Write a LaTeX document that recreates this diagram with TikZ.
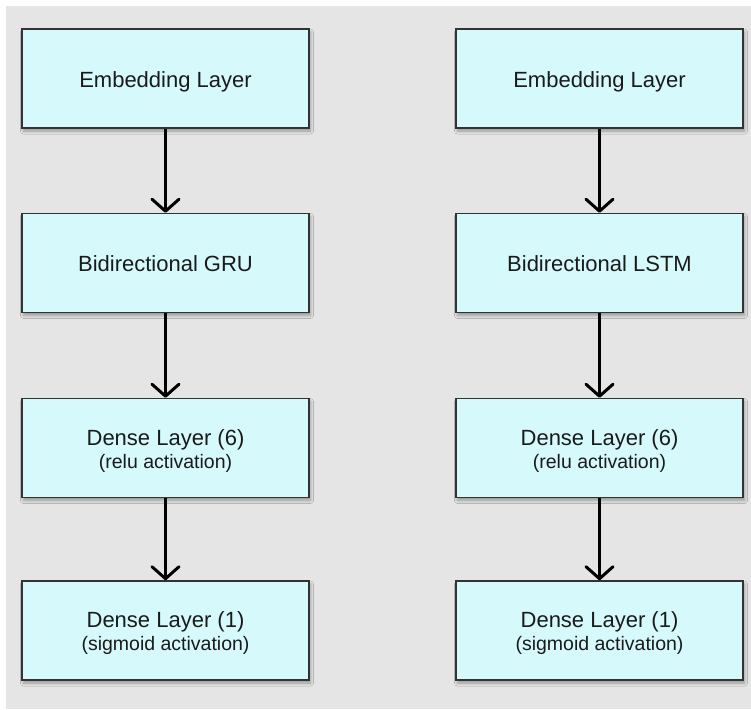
\documentclass[tikz,border=0pt]{standalone}
\usepackage{fontspec}
\setmainfont{Liberation Sans}
\usetikzlibrary{arrows.meta,shadows.blur,calc}
\definecolor{panelgray}{HTML}{E5E5E5}
\definecolor{layerfill}{HTML}{D6FAFC}
\definecolor{layerline}{HTML}{333333}
\definecolor{labeltext}{HTML}{1A1A1A}
\tikzset{
  layer/.style={draw=layerline, line width=1.6pt, fill=layerfill,
    minimum width=287pt, minimum height=99pt, inner sep=0pt,
    blur shadow={shadow xshift=1.5pt, shadow yshift=-3pt,
      shadow blur radius=3pt, shadow blur steps=6, shadow opacity=35}},
  mainlbl/.style={anchor=base, inner sep=0pt, text=labeltext,
    font=\fontsize{22}{26}\selectfont},
  sublbl/.style={anchor=base, inner sep=0pt, text=labeltext,
    font=\fontsize{19.5}{23}\selectfont},
  flow/.style={line width=3pt, black,
    -{Straight Barb[length=12pt, width=27pt, line cap=round, line join=round]}},
}
\begin{document}
\begin{tikzpicture}[x=1pt, y=-1pt]
  % canvas and grey panel
  \fill[white] (0,0) rectangle (751,709);
  \fill[panelgray] (6,6) rectangle (751,709);
  \useasboundingbox (0,0) rectangle (751,709);

  % left stack: GRU model
  \node[layer] (gA) at (165.5,78.5) {};
  \node[layer] (gB) at (165.5,263) {};
  \node[layer] (gC) at (165.5,448) {};
  \node[layer] (gD) at (165.5,630.5) {};

  % right stack: LSTM model
  \node[layer] (lA) at (599.5,78.5) {};
  \node[layer] (lB) at (599.5,263) {};
  \node[layer] (lC) at (599.5,448) {};
  \node[layer] (lD) at (599.5,630.5) {};

  % single-line labels
  \node[mainlbl] (gAt) at ($(gA.center)+(0,8.5)$) {Embedding Layer};
  \node[mainlbl] (gBt) at ($(gB.center)+(0,8.5)$) {Bidirectional GRU};
  \node[mainlbl] (lAt) at ($(lA.center)+(0,8.5)$) {Embedding Layer};
  \node[mainlbl] (lBt) at ($(lB.center)+(0,8.5)$) {Bidirectional LSTM};

  % two-line labels
  \node[mainlbl] (gCt) at ($(gC.center)+(0,-3)$) {Dense Layer (6)};
  \node[sublbl]  (gCs) at ($(gC.center)+(0,20)$) {(relu activation)};
  \node[mainlbl] (gDt) at ($(gD.center)+(0,-3)$) {Dense Layer (1)};
  \node[sublbl]  (gDs) at ($(gD.center)+(0,20)$) {(sigmoid activation)};
  \node[mainlbl] (lCt) at ($(lC.center)+(0,-3)$) {Dense Layer (6)};
  \node[sublbl]  (lCs) at ($(lC.center)+(0,20)$) {(relu activation)};
  \node[mainlbl] (lDt) at ($(lD.center)+(0,-3)$) {Dense Layer (1)};
  \node[sublbl]  (lDs) at ($(lD.center)+(0,20)$) {(sigmoid activation)};

  % connectors
  \draw[flow] (gA.south) -- (gB.north);
  \draw[flow] (gB.south) -- (gC.north);
  \draw[flow] (gC.south) -- (gD.north);
  \draw[flow] (lA.south) -- (lB.north);
  \draw[flow] (lB.south) -- (lC.north);
  \draw[flow] (lC.south) -- (lD.north);
\end{tikzpicture}
\end{document}
